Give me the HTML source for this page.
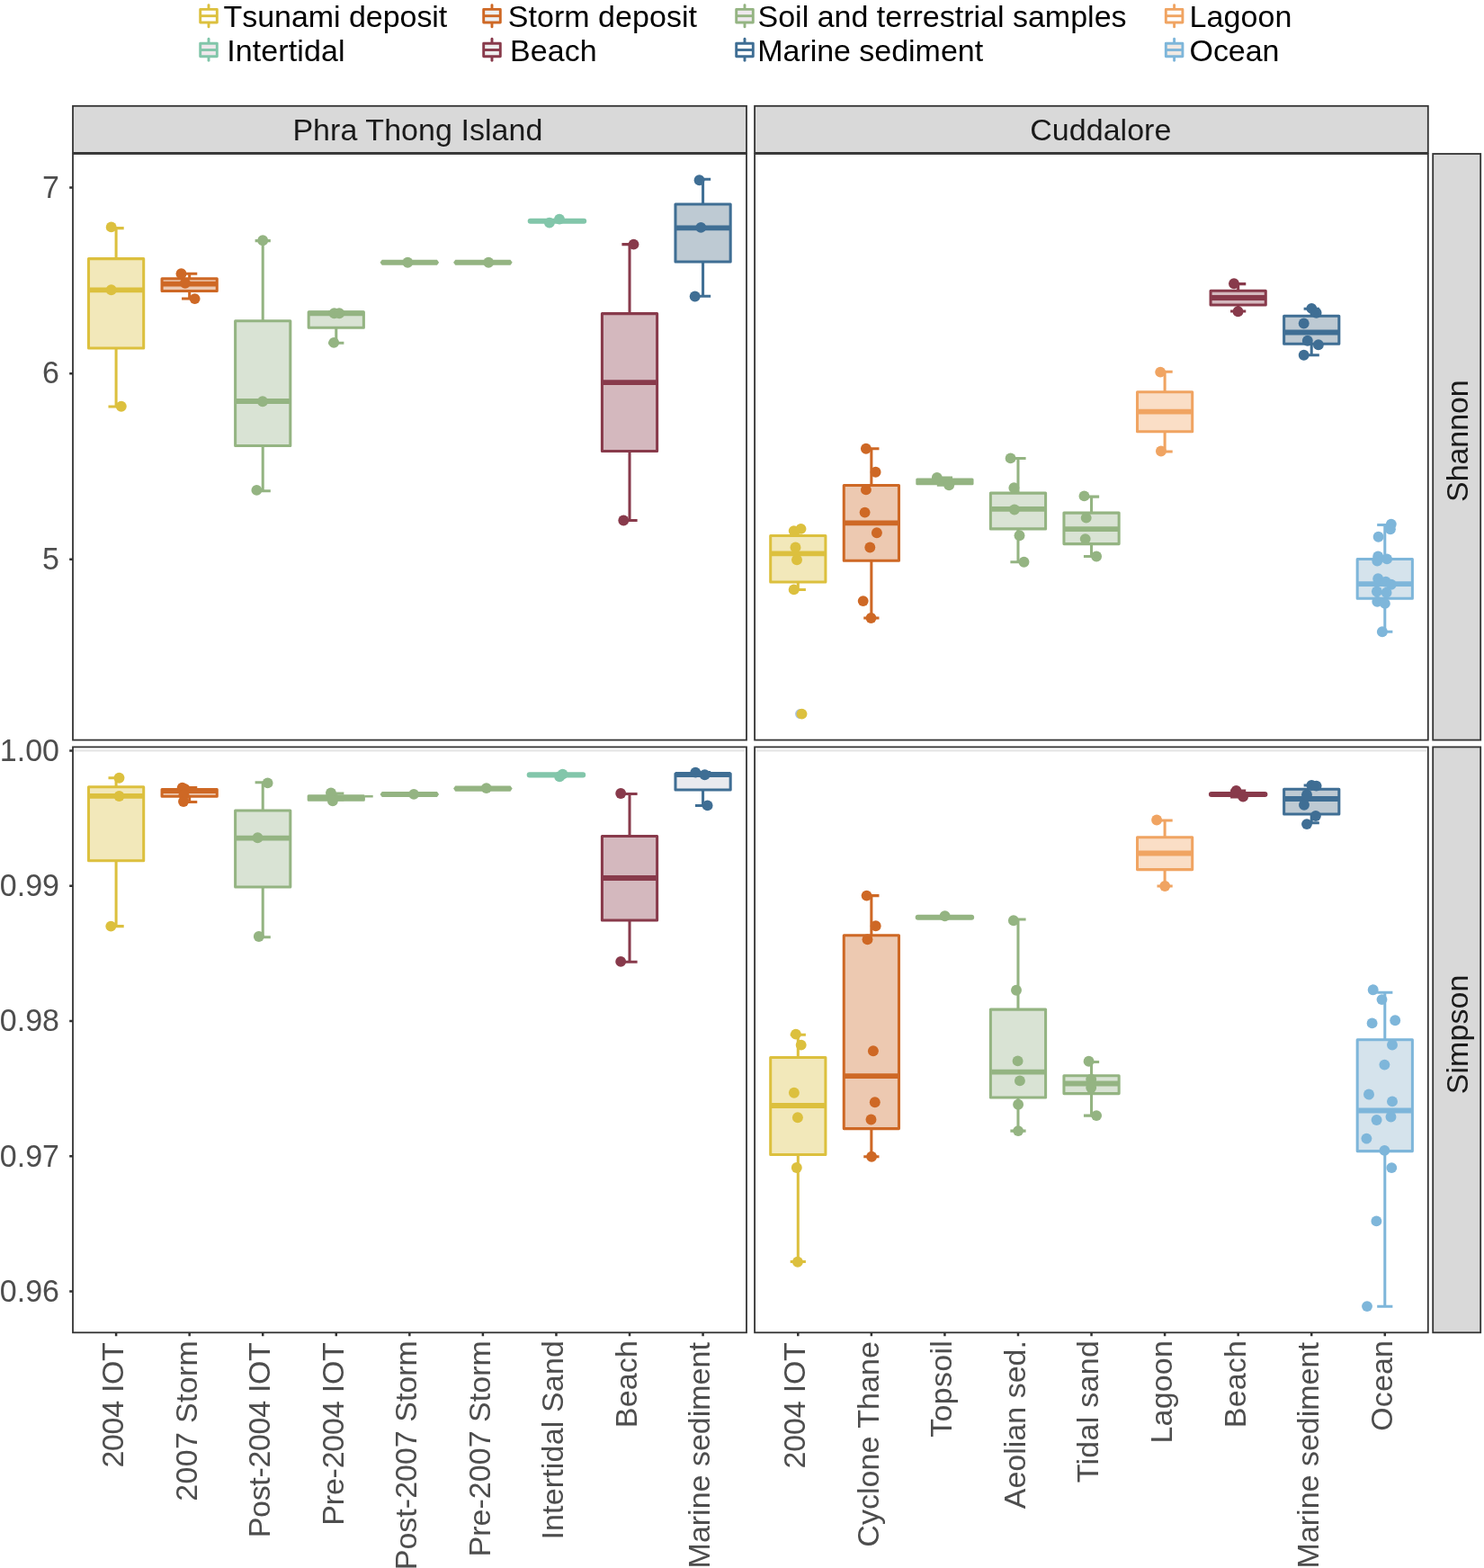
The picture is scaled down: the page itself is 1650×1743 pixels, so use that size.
<!DOCTYPE html><html><head><meta charset="utf-8"><title>Shannon and Simpson diversity boxplots</title><style>html,body{margin:0;padding:0;background:#fff;}svg{display:block;}text{font-family:'Liberation Sans', Arial, Helvetica, sans-serif;}#leg_tsu{font-kerning:none;}</style></head><body>
<svg width="1650" height="1743" viewBox="0 0 1650 1743">
<rect width="1650" height="1743" fill="#FFFFFF"/>
<g stroke-linecap="round" stroke-linejoin="round">
<line x1="232" y1="5.6" x2="232" y2="29.9" stroke="#DCC03E" stroke-width="2.9"/>
<rect x="222.7" y="10.4" width="18.6" height="14.6" fill="#FFFFFF" stroke="#DCC03E" stroke-width="2.9"/>
<line x1="222.7" y1="17.7" x2="241.3" y2="17.7" stroke="#DCC03E" stroke-width="2.9" stroke-linecap="butt"/>
<line x1="232" y1="43.2" x2="232" y2="67.3" stroke="#82C6AA" stroke-width="2.9"/>
<rect x="222.7" y="48.3" width="18.6" height="14.5" fill="#EFE8EC" stroke="#82C6AA" stroke-width="2.9"/>
<line x1="222.7" y1="55.5" x2="241.3" y2="55.5" stroke="#82C6AA" stroke-width="2.9" stroke-linecap="butt"/>
<line x1="547" y1="5.6" x2="547" y2="29.9" stroke="#CE6825" stroke-width="2.9"/>
<rect x="537.7" y="10.4" width="18.6" height="14.6" fill="#EDF1F4" stroke="#CE6825" stroke-width="2.9"/>
<line x1="537.7" y1="17.7" x2="556.3" y2="17.7" stroke="#CE6825" stroke-width="2.9" stroke-linecap="butt"/>
<line x1="547" y1="43.2" x2="547" y2="67.3" stroke="#883A4B" stroke-width="2.9"/>
<rect x="537.7" y="48.3" width="18.6" height="14.5" fill="#EEEEEE" stroke="#883A4B" stroke-width="2.9"/>
<line x1="537.7" y1="55.5" x2="556.3" y2="55.5" stroke="#883A4B" stroke-width="2.9" stroke-linecap="butt"/>
<line x1="828" y1="5.6" x2="828" y2="29.9" stroke="#94B482" stroke-width="2.9"/>
<rect x="818.7" y="10.4" width="18.6" height="14.6" fill="#EFE9EF" stroke="#94B482" stroke-width="2.9"/>
<line x1="818.7" y1="17.7" x2="837.3" y2="17.7" stroke="#94B482" stroke-width="2.9" stroke-linecap="butt"/>
<line x1="828" y1="43.2" x2="828" y2="67.3" stroke="#3F6E94" stroke-width="2.9"/>
<rect x="818.7" y="48.3" width="18.6" height="14.5" fill="#FFFFFF" stroke="#3F6E94" stroke-width="2.9"/>
<line x1="818.7" y1="55.5" x2="837.3" y2="55.5" stroke="#3F6E94" stroke-width="2.9" stroke-linecap="butt"/>
<line x1="1305.6" y1="5.6" x2="1305.6" y2="29.9" stroke="#F0A462" stroke-width="2.9"/>
<rect x="1296.3" y="10.4" width="18.6" height="14.6" fill="#FFFFFF" stroke="#F0A462" stroke-width="2.9"/>
<line x1="1296.3" y1="17.7" x2="1314.9" y2="17.7" stroke="#F0A462" stroke-width="2.9" stroke-linecap="butt"/>
<line x1="1305.6" y1="43.2" x2="1305.6" y2="67.3" stroke="#7EB6DA" stroke-width="2.9"/>
<rect x="1296.3" y="48.3" width="18.6" height="14.5" fill="#F1E9E3" stroke="#7EB6DA" stroke-width="2.9"/>
<line x1="1296.3" y1="55.5" x2="1314.9" y2="55.5" stroke="#7EB6DA" stroke-width="2.9" stroke-linecap="butt"/>
</g>
<text id="leg_tsu" x="248.55" y="30.3" fill="#000000" text-anchor="start" font-size="34.0" textLength="248.77" lengthAdjust="spacing">Tsunami deposit</text>
<text id="leg_int" x="252.3" y="67.8" fill="#000000" text-anchor="start" font-size="34.0" textLength="131.21" lengthAdjust="spacing">Intertidal</text>
<text id="leg_sto" x="564.75" y="30.3" fill="#000000" text-anchor="start" font-size="34.0" textLength="210.27" lengthAdjust="spacing">Storm deposit</text>
<text id="leg_bea" x="566.9" y="67.8" fill="#000000" text-anchor="start" font-size="34.0" textLength="96.81" lengthAdjust="spacing">Beach</text>
<text id="leg_soil" x="842.5" y="30.3" fill="#000000" text-anchor="start" font-size="34.0" textLength="410.06" lengthAdjust="spacing">Soil and terrestrial samples</text>
<text id="leg_mar" x="842.25" y="67.8" fill="#000000" text-anchor="start" font-size="34.0" textLength="250.84" lengthAdjust="spacing">Marine sediment</text>
<text id="leg_lag" x="1322.55" y="30.3" fill="#000000" text-anchor="start" font-size="34.0" textLength="113.77" lengthAdjust="spacing">Lagoon</text>
<text id="leg_oce" x="1322.6" y="67.8" fill="#000000" text-anchor="start" font-size="34.0" textLength="99.79" lengthAdjust="spacing">Ocean</text>
<rect x="81" y="171" width="749" height="651.6" fill="#FFFFFF"/>
<svg x="81" y="171" width="749" height="651.6" viewBox="81 171 749 651.6" overflow="hidden">
<path d="M129.1 253.6V287.6M129.1 387V452M120.5 253.6H137.7M120.5 452H137.7" stroke="#DCC03E" stroke-width="3.05" fill="none"/>
<rect x="98.5" y="287.6" width="61.2" height="99.4" fill="#F2E8BA" stroke="#DCC03E" stroke-width="3.05" stroke-linejoin="round"/>
<line x1="98.5" y1="322.4" x2="159.7" y2="322.4" stroke="#DCC03E" stroke-width="5.8"/>
<circle cx="123.7" cy="252.4" r="5.95" fill="#DCC03E"/>
<circle cx="123.7" cy="322.2" r="5.95" fill="#DCC03E"/>
<circle cx="134.8" cy="451.7" r="5.95" fill="#DCC03E"/>
<path d="M210.66 304.3V309.8M210.66 323.5V331.9M202.06 304.3H219.26M202.06 331.9H219.26" stroke="#CE6825" stroke-width="3.05" fill="none"/>
<rect x="180.06" y="309.8" width="61.2" height="13.7" fill="#EDC9B1" stroke="#CE6825" stroke-width="3.05" stroke-linejoin="round"/>
<line x1="180.06" y1="315.7" x2="241.26" y2="315.7" stroke="#CE6825" stroke-width="5.8"/>
<circle cx="201.5" cy="304.2" r="5.95" fill="#CE6825"/>
<circle cx="205.9" cy="314.7" r="5.95" fill="#CE6825"/>
<circle cx="216.6" cy="332.1" r="5.95" fill="#CE6825"/>
<path d="M292.22 267.6V356.8M292.22 495.6V545.7M283.62 267.6H300.82M283.62 545.7H300.82" stroke="#94B482" stroke-width="3.05" fill="none"/>
<rect x="261.62" y="356.8" width="61.2" height="138.8" fill="#D9E3D4" stroke="#94B482" stroke-width="3.05" stroke-linejoin="round"/>
<line x1="261.62" y1="446" x2="322.82" y2="446" stroke="#94B482" stroke-width="5.8"/>
<circle cx="292.2" cy="267.2" r="5.95" fill="#94B482"/>
<circle cx="292" cy="446.3" r="5.95" fill="#94B482"/>
<circle cx="285.4" cy="544.9" r="5.95" fill="#94B482"/>
<path d="M373.78 346.8V346.8M373.78 364.3V381.2M365.18 346.8H382.38M365.18 381.2H382.38" stroke="#94B482" stroke-width="3.05" fill="none"/>
<rect x="343.18" y="346.8" width="61.2" height="17.5" fill="#D9E3D4" stroke="#94B482" stroke-width="3.05" stroke-linejoin="round"/>
<line x1="343.18" y1="348.4" x2="404.38" y2="348.4" stroke="#94B482" stroke-width="5.8"/>
<circle cx="371.6" cy="348.2" r="5.95" fill="#94B482"/>
<circle cx="377.2" cy="348.2" r="5.95" fill="#94B482"/>
<circle cx="371.2" cy="380.9" r="5.95" fill="#94B482"/>
<path d="M422.54 291.7L424.74 288.65H485.94L488.14 291.7L485.94 294.75H424.74Z" fill="#94B482"/>
<circle cx="453.3" cy="291.7" r="5.95" fill="#94B482"/>
<path d="M504.1 291.7L506.3 288.65H567.5L569.7 291.7L567.5 294.75H506.3Z" fill="#94B482"/>
<circle cx="543.2" cy="291.7" r="5.95" fill="#94B482"/>
<line x1="589.76" y1="245.7" x2="649.16" y2="245.7" stroke="#82C6AA" stroke-width="6.1" stroke-linecap="round"/>
<circle cx="610.9" cy="247.6" r="5.95" fill="#82C6AA"/>
<circle cx="622" cy="243.6" r="5.95" fill="#82C6AA"/>
<path d="M700.02 271.6V348.6M700.02 501.4V578.4M691.42 271.6H708.62M691.42 578.4H708.62" stroke="#883A4B" stroke-width="3.05" fill="none"/>
<rect x="669.42" y="348.6" width="61.2" height="152.8" fill="#D4B8BE" stroke="#883A4B" stroke-width="3.05" stroke-linejoin="round"/>
<line x1="669.42" y1="425.1" x2="730.62" y2="425.1" stroke="#883A4B" stroke-width="5.8"/>
<circle cx="704.5" cy="271.6" r="5.95" fill="#883A4B"/>
<circle cx="693.3" cy="578.5" r="5.95" fill="#883A4B"/>
<path d="M781.58 199.3V227M781.58 291V329.2M772.98 199.3H790.18M772.98 329.2H790.18" stroke="#3F6E94" stroke-width="3.05" fill="none"/>
<rect x="750.98" y="227" width="61.2" height="64" fill="#BECAD3" stroke="#3F6E94" stroke-width="3.05" stroke-linejoin="round"/>
<line x1="750.98" y1="253.3" x2="812.18" y2="253.3" stroke="#3F6E94" stroke-width="5.8"/>
<circle cx="777.6" cy="200.2" r="5.95" fill="#3F6E94"/>
<circle cx="779.3" cy="252.9" r="5.95" fill="#3F6E94"/>
<circle cx="772.7" cy="329.5" r="5.95" fill="#3F6E94"/>
</svg>
<rect x="81" y="171" width="749" height="651.6" fill="none" stroke="#333333" stroke-width="1.8"/>
<rect x="839.1" y="171" width="748.7" height="651.6" fill="#FFFFFF"/>
<svg x="839.1" y="171" width="748.7" height="651.6" viewBox="839.1 171 748.7 651.6" overflow="hidden">
<path d="M887.3 588.5V595.5M887.3 647V655.4M878.7 588.5H895.9M878.7 655.4H895.9" stroke="#DCC03E" stroke-width="3.05" fill="none"/>
<rect x="856.7" y="595.5" width="61.2" height="51.5" fill="#F2E8BA" stroke="#DCC03E" stroke-width="3.05" stroke-linejoin="round"/>
<line x1="856.7" y1="615.3" x2="917.9" y2="615.3" stroke="#DCC03E" stroke-width="5.8"/>
<circle cx="889.6" cy="793.6" r="5.5" fill="#A7C0E2"/>
<circle cx="882.7" cy="590.1" r="5.95" fill="#DCC03E"/>
<circle cx="890.5" cy="587.9" r="5.95" fill="#DCC03E"/>
<circle cx="884.5" cy="608.4" r="5.95" fill="#DCC03E"/>
<circle cx="886" cy="622.2" r="5.95" fill="#DCC03E"/>
<circle cx="882.7" cy="655.4" r="5.95" fill="#DCC03E"/>
<circle cx="891.5" cy="793.6" r="5.95" fill="#DCC03E"/>
<path d="M968.86 498.7V539.4M968.86 623.2V687M960.26 498.7H977.46M960.26 687H977.46" stroke="#CE6825" stroke-width="3.05" fill="none"/>
<rect x="938.26" y="539.4" width="61.2" height="83.8" fill="#EDC9B1" stroke="#CE6825" stroke-width="3.05" stroke-linejoin="round"/>
<line x1="938.26" y1="581.3" x2="999.46" y2="581.3" stroke="#CE6825" stroke-width="5.8"/>
<circle cx="962.9" cy="498.7" r="5.95" fill="#CE6825"/>
<circle cx="973.6" cy="524.8" r="5.95" fill="#CE6825"/>
<circle cx="962.9" cy="544.4" r="5.95" fill="#CE6825"/>
<circle cx="961.6" cy="569.6" r="5.95" fill="#CE6825"/>
<circle cx="974.9" cy="592.3" r="5.95" fill="#CE6825"/>
<circle cx="967.3" cy="608.5" r="5.95" fill="#CE6825"/>
<circle cx="959.7" cy="668.1" r="5.95" fill="#CE6825"/>
<circle cx="968.5" cy="687" r="5.95" fill="#CE6825"/>
<path d="M1050.42 531V533M1050.42 537.8V539.2M1041.82 531H1059.02M1041.82 539.2H1059.02" stroke="#94B482" stroke-width="3.05" fill="none"/>
<rect x="1019.82" y="533" width="61.2" height="4.8" fill="#D9E3D4" stroke="#94B482" stroke-width="3.05" stroke-linejoin="round"/>
<line x1="1019.82" y1="535.4" x2="1081.02" y2="535.4" stroke="#94B482" stroke-width="5.8"/>
<circle cx="1041.8" cy="530.9" r="5.95" fill="#94B482"/>
<circle cx="1055.2" cy="539.2" r="5.95" fill="#94B482"/>
<path d="M1131.98 509.4V548.1M1131.98 587.9V624.8M1123.38 509.4H1140.58M1123.38 624.8H1140.58" stroke="#94B482" stroke-width="3.05" fill="none"/>
<rect x="1101.38" y="548.1" width="61.2" height="39.8" fill="#D9E3D4" stroke="#94B482" stroke-width="3.05" stroke-linejoin="round"/>
<line x1="1101.38" y1="565.8" x2="1162.58" y2="565.8" stroke="#94B482" stroke-width="5.8"/>
<circle cx="1123.6" cy="509.4" r="5.95" fill="#94B482"/>
<circle cx="1127.4" cy="542.3" r="5.95" fill="#94B482"/>
<circle cx="1127.9" cy="566.5" r="5.95" fill="#94B482"/>
<circle cx="1133.5" cy="595.3" r="5.95" fill="#94B482"/>
<circle cx="1138.5" cy="624.8" r="5.95" fill="#94B482"/>
<path d="M1213.54 552.1V570.1M1213.54 604.6V618.5M1204.94 552.1H1222.14M1204.94 618.5H1222.14" stroke="#94B482" stroke-width="3.05" fill="none"/>
<rect x="1182.94" y="570.1" width="61.2" height="34.5" fill="#D9E3D4" stroke="#94B482" stroke-width="3.05" stroke-linejoin="round"/>
<line x1="1182.94" y1="588.1" x2="1244.14" y2="588.1" stroke="#94B482" stroke-width="5.8"/>
<circle cx="1205.5" cy="551.4" r="5.95" fill="#94B482"/>
<circle cx="1207.7" cy="575.6" r="5.95" fill="#94B482"/>
<circle cx="1206.7" cy="599.1" r="5.95" fill="#94B482"/>
<circle cx="1219.1" cy="618.5" r="5.95" fill="#94B482"/>
<path d="M1295.1 413.3V435.8M1295.1 479.8V502M1286.5 413.3H1303.7M1286.5 502H1303.7" stroke="#F0A462" stroke-width="3.05" fill="none"/>
<rect x="1264.5" y="435.8" width="61.2" height="44" fill="#FADEC6" stroke="#F0A462" stroke-width="3.05" stroke-linejoin="round"/>
<line x1="1264.5" y1="457.6" x2="1325.7" y2="457.6" stroke="#F0A462" stroke-width="5.8"/>
<circle cx="1290.2" cy="413.6" r="5.95" fill="#F0A462"/>
<circle cx="1290.9" cy="501.5" r="5.95" fill="#F0A462"/>
<path d="M1376.66 315.6V323.3M1376.66 338.9V345.9M1368.06 315.6H1385.26M1368.06 345.9H1385.26" stroke="#883A4B" stroke-width="3.05" fill="none"/>
<rect x="1346.06" y="323.3" width="61.2" height="15.6" fill="#D4B8BE" stroke="#883A4B" stroke-width="3.05" stroke-linejoin="round"/>
<line x1="1346.06" y1="331" x2="1407.26" y2="331" stroke="#883A4B" stroke-width="5.8"/>
<circle cx="1372" cy="315.2" r="5.95" fill="#883A4B"/>
<circle cx="1376.5" cy="346.2" r="5.95" fill="#883A4B"/>
<path d="M1458.22 343.2V351.3M1458.22 382.3V394.7M1449.62 343.2H1466.82M1449.62 394.7H1466.82" stroke="#3F6E94" stroke-width="3.05" fill="none"/>
<rect x="1427.62" y="351.3" width="61.2" height="31" fill="#BECAD3" stroke="#3F6E94" stroke-width="3.05" stroke-linejoin="round"/>
<line x1="1427.62" y1="369.5" x2="1488.82" y2="369.5" stroke="#3F6E94" stroke-width="5.8"/>
<circle cx="1458.3" cy="342.9" r="5.95" fill="#3F6E94"/>
<circle cx="1463.6" cy="347.7" r="5.95" fill="#3F6E94"/>
<circle cx="1449.7" cy="359.5" r="5.95" fill="#3F6E94"/>
<circle cx="1453.8" cy="378.8" r="5.95" fill="#3F6E94"/>
<circle cx="1465.9" cy="383.3" r="5.95" fill="#3F6E94"/>
<circle cx="1449.7" cy="394.7" r="5.95" fill="#3F6E94"/>
<path d="M1539.78 583.5V621.4M1539.78 665.2V702.3M1531.18 583.5H1548.38M1531.18 702.3H1548.38" stroke="#7EB6DA" stroke-width="3.05" fill="none"/>
<rect x="1509.18" y="621.4" width="61.2" height="43.8" fill="#D5E3EC" stroke="#7EB6DA" stroke-width="3.05" stroke-linejoin="round"/>
<line x1="1509.18" y1="649.1" x2="1570.38" y2="649.1" stroke="#7EB6DA" stroke-width="5.8"/>
<circle cx="1546.8" cy="582.6" r="5.95" fill="#7EB6DA"/>
<circle cx="1545.9" cy="588.2" r="5.95" fill="#7EB6DA"/>
<circle cx="1532.6" cy="596.8" r="5.95" fill="#7EB6DA"/>
<circle cx="1532.2" cy="618.4" r="5.95" fill="#7EB6DA"/>
<circle cx="1531.3" cy="623.5" r="5.95" fill="#7EB6DA"/>
<circle cx="1542.1" cy="621.4" r="5.95" fill="#7EB6DA"/>
<circle cx="1532.2" cy="643.3" r="5.95" fill="#7EB6DA"/>
<circle cx="1540.8" cy="646.8" r="5.95" fill="#7EB6DA"/>
<circle cx="1546.8" cy="649.8" r="5.95" fill="#7EB6DA"/>
<circle cx="1530.9" cy="657.5" r="5.95" fill="#7EB6DA"/>
<circle cx="1541.6" cy="658.8" r="5.95" fill="#7EB6DA"/>
<circle cx="1531.3" cy="668.7" r="5.95" fill="#7EB6DA"/>
<circle cx="1539.9" cy="670.9" r="5.95" fill="#7EB6DA"/>
<circle cx="1536.9" cy="702.3" r="5.95" fill="#7EB6DA"/>
</svg>
<rect x="839.1" y="171" width="748.7" height="651.6" fill="none" stroke="#333333" stroke-width="1.8"/>
<rect x="81" y="830.4" width="749" height="650.9" fill="#FFFFFF"/>
<line x1="82" y1="834.4" x2="828.5" y2="834.4" stroke="#E6E6E6" stroke-width="2.2"/>
<svg x="81" y="830.4" width="749" height="650.9" viewBox="81 830.4 749 650.9" overflow="hidden">
<path d="M129.1 864.7V874.8M129.1 956.8V1029.6M120.5 864.7H137.7M120.5 1029.6H137.7" stroke="#DCC03E" stroke-width="3.05" fill="none"/>
<rect x="98.5" y="874.8" width="61.2" height="82" fill="#F2E8BA" stroke="#DCC03E" stroke-width="3.05" stroke-linejoin="round"/>
<line x1="98.5" y1="884.9" x2="159.7" y2="884.9" stroke="#DCC03E" stroke-width="5.8"/>
<circle cx="132.5" cy="864.7" r="5.95" fill="#DCC03E"/>
<circle cx="132.5" cy="885" r="5.95" fill="#DCC03E"/>
<circle cx="123.3" cy="1029.6" r="5.95" fill="#DCC03E"/>
<path d="M210.66 875.5V877.6M210.66 885.3V891.4M202.06 875.5H219.26M202.06 891.4H219.26" stroke="#CE6825" stroke-width="3.05" fill="none"/>
<rect x="180.06" y="877.6" width="61.2" height="7.7" fill="#EDC9B1" stroke="#CE6825" stroke-width="3.05" stroke-linejoin="round"/>
<line x1="180.06" y1="879.2" x2="241.26" y2="879.2" stroke="#CE6825" stroke-width="5.8"/>
<circle cx="202.7" cy="875.8" r="5.95" fill="#CE6825"/>
<circle cx="205.8" cy="877.2" r="5.95" fill="#CE6825"/>
<circle cx="204.5" cy="883.5" r="5.95" fill="#CE6825"/>
<circle cx="204" cy="891" r="5.95" fill="#CE6825"/>
<path d="M292.22 869.8V900.9M292.22 985.9V1041.7M283.62 869.8H300.82M283.62 1041.7H300.82" stroke="#94B482" stroke-width="3.05" fill="none"/>
<rect x="261.62" y="900.9" width="61.2" height="85" fill="#D9E3D4" stroke="#94B482" stroke-width="3.05" stroke-linejoin="round"/>
<line x1="261.62" y1="931.6" x2="322.82" y2="931.6" stroke="#94B482" stroke-width="5.8"/>
<circle cx="297.6" cy="870.4" r="5.95" fill="#94B482"/>
<circle cx="286.5" cy="931.2" r="5.95" fill="#94B482"/>
<circle cx="287.8" cy="1041" r="5.95" fill="#94B482"/>
<path d="M373.78 882V884.8M373.78 889.3V889M365.18 882H382.38M365.18 889H382.38" stroke="#94B482" stroke-width="3.05" fill="none"/>
<rect x="343.18" y="884.8" width="61.2" height="4.5" fill="#D9E3D4" stroke="#94B482" stroke-width="3.05" stroke-linejoin="round"/>
<line x1="343.18" y1="887" x2="404.38" y2="887" stroke="#94B482" stroke-width="5.8"/>
<circle cx="368" cy="881.5" r="5.95" fill="#94B482"/>
<circle cx="369.9" cy="890.2" r="5.95" fill="#94B482"/>
<path d="M422.54 883L424.74 879.95H485.94L488.14 883L485.94 886.05H424.74Z" fill="#94B482"/>
<circle cx="460.1" cy="882.9" r="5.95" fill="#94B482"/>
<path d="M504.1 876.6L506.3 873.55H567.5L569.7 876.6L567.5 879.65H506.3Z" fill="#94B482"/>
<circle cx="540.8" cy="876.1" r="5.95" fill="#94B482"/>
<line x1="588.76" y1="861.4" x2="648.16" y2="861.4" stroke="#82C6AA" stroke-width="6.1" stroke-linecap="round"/>
<circle cx="622.2" cy="863.2" r="5.95" fill="#82C6AA"/>
<circle cx="625.6" cy="860.6" r="5.95" fill="#82C6AA"/>
<path d="M700.02 882.4V929.4M700.02 1023V1069.3M691.42 882.4H708.62M691.42 1069.3H708.62" stroke="#883A4B" stroke-width="3.05" fill="none"/>
<rect x="669.42" y="929.4" width="61.2" height="93.6" fill="#D4B8BE" stroke="#883A4B" stroke-width="3.05" stroke-linejoin="round"/>
<line x1="669.42" y1="976" x2="730.62" y2="976" stroke="#883A4B" stroke-width="5.8"/>
<circle cx="690.2" cy="882" r="5.95" fill="#883A4B"/>
<circle cx="690.2" cy="1068.9" r="5.95" fill="#883A4B"/>
<path d="M781.58 858.6V859.9M781.58 878V895.4M772.98 858.6H790.18M772.98 895.4H790.18" stroke="#3F6E94" stroke-width="3.05" fill="none"/>
<rect x="750.98" y="859.9" width="61.2" height="18.1" fill="#E9EAEE" stroke="#3F6E94" stroke-width="3.05" stroke-linejoin="round"/>
<line x1="750.98" y1="861" x2="812.18" y2="861" stroke="#3F6E94" stroke-width="5.8"/>
<circle cx="773.3" cy="858.6" r="5.95" fill="#3F6E94"/>
<circle cx="783.6" cy="861.3" r="5.95" fill="#3F6E94"/>
<circle cx="786.6" cy="895.4" r="5.95" fill="#3F6E94"/>
<line x1="405.5" y1="885.2" x2="414.7" y2="885.2" stroke="#94B482" stroke-width="2.6"/>
</svg>
<rect x="81" y="830.4" width="749" height="650.9" fill="none" stroke="#333333" stroke-width="1.8"/>
<rect x="839.1" y="830.4" width="748.7" height="650.9" fill="#FFFFFF"/>
<line x1="840.1" y1="834.4" x2="1586.3" y2="834.4" stroke="#E6E6E6" stroke-width="2.2"/>
<svg x="839.1" y="830.4" width="748.7" height="650.9" viewBox="839.1 830.4 748.7 650.9" overflow="hidden">
<path d="M887.3 1150.3V1175.4M887.3 1283.4V1402.5M878.7 1150.3H895.9M878.7 1402.5H895.9" stroke="#DCC03E" stroke-width="3.05" fill="none"/>
<rect x="856.7" y="1175.4" width="61.2" height="108" fill="#F2E8BA" stroke="#DCC03E" stroke-width="3.05" stroke-linejoin="round"/>
<line x1="856.7" y1="1229" x2="917.9" y2="1229" stroke="#DCC03E" stroke-width="5.8"/>
<circle cx="884.9" cy="1149.6" r="5.95" fill="#DCC03E"/>
<circle cx="890.7" cy="1161.6" r="5.95" fill="#DCC03E"/>
<circle cx="882.9" cy="1214.8" r="5.95" fill="#DCC03E"/>
<circle cx="886.9" cy="1242.3" r="5.95" fill="#DCC03E"/>
<circle cx="885.8" cy="1298" r="5.95" fill="#DCC03E"/>
<circle cx="886.9" cy="1402.8" r="5.95" fill="#DCC03E"/>
<path d="M968.86 995.6V1039.7M968.86 1254.6V1285.8M960.26 995.6H977.46M960.26 1285.8H977.46" stroke="#CE6825" stroke-width="3.05" fill="none"/>
<rect x="938.26" y="1039.7" width="61.2" height="214.9" fill="#EDC9B1" stroke="#CE6825" stroke-width="3.05" stroke-linejoin="round"/>
<line x1="938.26" y1="1196.2" x2="999.46" y2="1196.2" stroke="#CE6825" stroke-width="5.8"/>
<circle cx="963.6" cy="995.6" r="5.95" fill="#CE6825"/>
<circle cx="973.7" cy="1029.2" r="5.95" fill="#CE6825"/>
<circle cx="964.5" cy="1044.3" r="5.95" fill="#CE6825"/>
<circle cx="970.9" cy="1168.3" r="5.95" fill="#CE6825"/>
<circle cx="972.8" cy="1225.2" r="5.95" fill="#CE6825"/>
<circle cx="968.5" cy="1244.5" r="5.95" fill="#CE6825"/>
<circle cx="969.1" cy="1285.8" r="5.95" fill="#CE6825"/>
<line x1="1020.72" y1="1019.8" x2="1080.12" y2="1019.8" stroke="#94B482" stroke-width="6.1" stroke-linecap="round"/>
<circle cx="1050.6" cy="1018.3" r="5.95" fill="#94B482"/>
<path d="M1131.98 1022V1122.1M1131.98 1219.9V1257.1M1123.38 1022H1140.58M1123.38 1257.1H1140.58" stroke="#94B482" stroke-width="3.05" fill="none"/>
<rect x="1101.38" y="1122.1" width="61.2" height="97.8" fill="#D9E3D4" stroke="#94B482" stroke-width="3.05" stroke-linejoin="round"/>
<line x1="1101.38" y1="1191.6" x2="1162.58" y2="1191.6" stroke="#94B482" stroke-width="5.8"/>
<circle cx="1126.9" cy="1023.2" r="5.95" fill="#94B482"/>
<circle cx="1130" cy="1100.7" r="5.95" fill="#94B482"/>
<circle cx="1131.6" cy="1179.4" r="5.95" fill="#94B482"/>
<circle cx="1133.9" cy="1201.4" r="5.95" fill="#94B482"/>
<circle cx="1132.1" cy="1227.7" r="5.95" fill="#94B482"/>
<circle cx="1132.1" cy="1257.1" r="5.95" fill="#94B482"/>
<path d="M1213.54 1180.5V1195.7M1213.54 1215.6V1240.1M1204.94 1180.5H1222.14M1204.94 1240.1H1222.14" stroke="#94B482" stroke-width="3.05" fill="none"/>
<rect x="1182.94" y="1195.7" width="61.2" height="19.9" fill="#D9E3D4" stroke="#94B482" stroke-width="3.05" stroke-linejoin="round"/>
<line x1="1182.94" y1="1204.5" x2="1244.14" y2="1204.5" stroke="#94B482" stroke-width="5.8"/>
<circle cx="1210.6" cy="1179.7" r="5.95" fill="#94B482"/>
<circle cx="1213.2" cy="1199.8" r="5.95" fill="#94B482"/>
<circle cx="1213.2" cy="1209.1" r="5.95" fill="#94B482"/>
<circle cx="1219.1" cy="1240.1" r="5.95" fill="#94B482"/>
<path d="M1295.1 912V930.7M1295.1 966.6V985M1286.5 912H1303.7M1286.5 985H1303.7" stroke="#F0A462" stroke-width="3.05" fill="none"/>
<rect x="1264.5" y="930.7" width="61.2" height="35.9" fill="#FADEC6" stroke="#F0A462" stroke-width="3.05" stroke-linejoin="round"/>
<line x1="1264.5" y1="948.5" x2="1325.7" y2="948.5" stroke="#F0A462" stroke-width="5.8"/>
<circle cx="1286.1" cy="911.5" r="5.95" fill="#F0A462"/>
<circle cx="1295.2" cy="985" r="5.95" fill="#F0A462"/>
<line x1="1346.96" y1="883" x2="1406.36" y2="883" stroke="#883A4B" stroke-width="6.1" stroke-linecap="round"/>
<path d="M1368.06 879H1385.26M1368.06 886H1385.26M1376.66 879V886" stroke="#883A4B" stroke-width="3.05" fill="none"/>
<circle cx="1374.5" cy="878.9" r="5.95" fill="#883A4B"/>
<circle cx="1382.1" cy="885.5" r="5.95" fill="#883A4B"/>
<path d="M1458.22 873V877.2M1458.22 904.9V914.8M1449.62 873H1466.82M1449.62 914.8H1466.82" stroke="#3F6E94" stroke-width="3.05" fill="none"/>
<rect x="1427.62" y="877.2" width="61.2" height="27.7" fill="#BECAD3" stroke="#3F6E94" stroke-width="3.05" stroke-linejoin="round"/>
<line x1="1427.62" y1="888" x2="1488.82" y2="888" stroke="#3F6E94" stroke-width="5.8"/>
<circle cx="1458.3" cy="872.9" r="5.95" fill="#3F6E94"/>
<circle cx="1463.6" cy="873.6" r="5.95" fill="#3F6E94"/>
<circle cx="1453" cy="883.5" r="5.95" fill="#3F6E94"/>
<circle cx="1450" cy="894.8" r="5.95" fill="#3F6E94"/>
<circle cx="1462.9" cy="907" r="5.95" fill="#3F6E94"/>
<circle cx="1453" cy="916.1" r="5.95" fill="#3F6E94"/>
<path d="M1539.78 1103.2V1155.7M1539.78 1279.6V1452.3M1531.18 1103.2H1548.38M1531.18 1452.3H1548.38" stroke="#7EB6DA" stroke-width="3.05" fill="none"/>
<rect x="1509.18" y="1155.7" width="61.2" height="123.9" fill="#D5E3EC" stroke="#7EB6DA" stroke-width="3.05" stroke-linejoin="round"/>
<line x1="1509.18" y1="1234.5" x2="1570.38" y2="1234.5" stroke="#7EB6DA" stroke-width="5.8"/>
<circle cx="1526.7" cy="1100.3" r="5.95" fill="#7EB6DA"/>
<circle cx="1536.5" cy="1111.1" r="5.95" fill="#7EB6DA"/>
<circle cx="1525.6" cy="1137.4" r="5.95" fill="#7EB6DA"/>
<circle cx="1551.2" cy="1134.2" r="5.95" fill="#7EB6DA"/>
<circle cx="1548" cy="1161.5" r="5.95" fill="#7EB6DA"/>
<circle cx="1539.4" cy="1183.6" r="5.95" fill="#7EB6DA"/>
<circle cx="1522" cy="1216.5" r="5.95" fill="#7EB6DA"/>
<circle cx="1548" cy="1224.4" r="5.95" fill="#7EB6DA"/>
<circle cx="1530.6" cy="1245" r="5.95" fill="#7EB6DA"/>
<circle cx="1546.5" cy="1241.5" r="5.95" fill="#7EB6DA"/>
<circle cx="1519.4" cy="1265.6" r="5.95" fill="#7EB6DA"/>
<circle cx="1539.4" cy="1278.9" r="5.95" fill="#7EB6DA"/>
<circle cx="1547.3" cy="1298.1" r="5.95" fill="#7EB6DA"/>
<circle cx="1530.4" cy="1357.4" r="5.95" fill="#7EB6DA"/>
<circle cx="1520" cy="1452.1" r="5.95" fill="#7EB6DA"/>
</svg>
<rect x="839.1" y="830.4" width="748.7" height="650.9" fill="none" stroke="#333333" stroke-width="1.8"/>
<rect x="81" y="117.8" width="749" height="52.1" fill="#D9D9D9" stroke="#333333" stroke-width="1.8"/>
<rect x="839.1" y="117.8" width="748.7" height="52.1" fill="#D9D9D9" stroke="#333333" stroke-width="1.8"/>
<rect x="1593.2" y="171" width="53" height="651.6" fill="#D9D9D9" stroke="#333333" stroke-width="1.8"/>
<rect x="1593.2" y="830.4" width="53" height="650.9" fill="#D9D9D9" stroke="#333333" stroke-width="1.8"/>
<text id="strip_phra" x="464.43" y="156.4" fill="#1A1A1A" text-anchor="middle" font-size="34.0" textLength="278.08" lengthAdjust="spacing">Phra Thong Island</text>
<text id="strip_cud" x="1223.8" y="156.4" fill="#1A1A1A" text-anchor="middle" font-size="34.0" textLength="157.19" lengthAdjust="spacing">Cuddalore</text>
<text id="strip_sha" transform="translate(1631.9 490.1) rotate(-90)" fill="#1A1A1A" text-anchor="middle" font-size="34.0" textLength="135.74" lengthAdjust="spacing">Shannon</text>
<text id="strip_sim" transform="translate(1631.9 1149.95) rotate(-90)" fill="#1A1A1A" text-anchor="middle" font-size="34.0" textLength="132.58" lengthAdjust="spacing">Simpson</text>
<path d="M77.2 208.4H81 M77.2 415.2H81 M77.2 621.85H81 M77.2 834.4H81 M77.2 984.7H81 M77.2 1135H81 M77.2 1285.3H81 M77.2 1435.5H81 M129.1 1481.3V1485.2 M210.66 1481.3V1485.2 M292.22 1481.3V1485.2 M373.78 1481.3V1485.2 M455.34 1481.3V1485.2 M536.9 1481.3V1485.2 M618.46 1481.3V1485.2 M700.02 1481.3V1485.2 M781.58 1481.3V1485.2 M887.3 1481.3V1485.2 M968.86 1481.3V1485.2 M1050.42 1481.3V1485.2 M1131.98 1481.3V1485.2 M1213.54 1481.3V1485.2 M1295.1 1481.3V1485.2 M1376.66 1481.3V1485.2 M1458.22 1481.3V1485.2 M1539.78 1481.3V1485.2" stroke="#333333" stroke-width="2.5" fill="none"/>
<text id="ylab_7" transform="translate(66 219.5) scale(1 1.04)" fill="#4D4D4D" text-anchor="end" font-size="34.0">7</text>
<text id="ylab_6" transform="translate(66 426.3) scale(1 1.04)" fill="#4D4D4D" text-anchor="end" font-size="34.0">6</text>
<text id="ylab_5" transform="translate(66 632.95) scale(1 1.04)" fill="#4D4D4D" text-anchor="end" font-size="34.0">5</text>
<text id="ylab_1.00" transform="translate(66 845.7) scale(1 1.04)" fill="#4D4D4D" text-anchor="end" font-size="34.0">1.00</text>
<text id="ylab_0.99" transform="translate(66 996) scale(1 1.04)" fill="#4D4D4D" text-anchor="end" font-size="34.0">0.99</text>
<text id="ylab_0.98" transform="translate(66 1146.3) scale(1 1.04)" fill="#4D4D4D" text-anchor="end" font-size="34.0">0.98</text>
<text id="ylab_0.97" transform="translate(66 1296.6) scale(1 1.04)" fill="#4D4D4D" text-anchor="end" font-size="34.0">0.97</text>
<text id="ylab_0.96" transform="translate(66 1446.8) scale(1 1.04)" fill="#4D4D4D" text-anchor="end" font-size="34.0">0.96</text>
<text id="xlab_0_1" transform="translate(137 1492.1) rotate(-90)" fill="#4D4D4D" text-anchor="end" font-size="34.0" textLength="139.45" lengthAdjust="spacing">2004 IOT</text>
<text id="xlab_0_2" transform="translate(218.56 1490.1) rotate(-90)" fill="#4D4D4D" text-anchor="end" font-size="34.0" textLength="178.67" lengthAdjust="spacing">2007 Storm</text>
<text id="xlab_0_3" transform="translate(300.12 1492.1) rotate(-90)" fill="#4D4D4D" text-anchor="end" font-size="34.0" textLength="217.21" lengthAdjust="spacing">Post-2004 IOT</text>
<text id="xlab_0_4" transform="translate(381.68 1492.1) rotate(-90)" fill="#4D4D4D" text-anchor="end" font-size="34.0" textLength="203.58" lengthAdjust="spacing">Pre-2004 IOT</text>
<text id="xlab_0_5" transform="translate(463.24 1490.1) rotate(-90)" fill="#4D4D4D" text-anchor="end" font-size="34.0">Post-2007 Storm</text>
<text id="xlab_0_6" transform="translate(544.8 1490.1) rotate(-90)" fill="#4D4D4D" text-anchor="end" font-size="34.0" textLength="240.4" lengthAdjust="spacing">Pre-2007 Storm</text>
<text id="xlab_0_7" transform="translate(626.36 1490.1) rotate(-90)" fill="#4D4D4D" text-anchor="end" font-size="34.0" textLength="221.47" lengthAdjust="spacing">Intertidal Sand</text>
<text id="xlab_0_8" transform="translate(707.92 1490.1) rotate(-90)" fill="#4D4D4D" text-anchor="end" font-size="34.0" textLength="97.11" lengthAdjust="spacing">Beach</text>
<text id="xlab_0_9" transform="translate(789.48 1492.1) rotate(-90)" fill="#4D4D4D" text-anchor="end" font-size="34.0">Marine sediment</text>
<text id="xlab_1_1" transform="translate(895.2 1492.1) rotate(-90)" fill="#4D4D4D" text-anchor="end" font-size="34.0" textLength="140.35" lengthAdjust="spacing">2004 IOT</text>
<text id="xlab_1_2" transform="translate(976.76 1491.1) rotate(-90)" fill="#4D4D4D" text-anchor="end" font-size="34.0" textLength="228.58" lengthAdjust="spacing">Cyclone Thane</text>
<text id="xlab_1_3" transform="translate(1058.32 1490.1) rotate(-90)" fill="#4D4D4D" text-anchor="end" font-size="34.0" textLength="107.74" lengthAdjust="spacing">Topsoil</text>
<text id="xlab_1_4" transform="translate(1139.88 1490.1) rotate(-90)" fill="#4D4D4D" text-anchor="end" font-size="34.0" textLength="187.14" lengthAdjust="spacing">Aeolian sed.</text>
<text id="xlab_1_5" transform="translate(1221.44 1490.1) rotate(-90)" fill="#4D4D4D" text-anchor="end" font-size="34.0" textLength="158.21" lengthAdjust="spacing">Tidal sand</text>
<text id="xlab_1_6" transform="translate(1303 1490.1) rotate(-90)" fill="#4D4D4D" text-anchor="end" font-size="34.0" textLength="114.47" lengthAdjust="spacing">Lagoon</text>
<text id="xlab_1_7" transform="translate(1384.56 1490.1) rotate(-90)" fill="#4D4D4D" text-anchor="end" font-size="34.0" textLength="97.11" lengthAdjust="spacing">Beach</text>
<text id="xlab_1_8" transform="translate(1466.12 1492.1) rotate(-90)" fill="#4D4D4D" text-anchor="end" font-size="34.0">Marine sediment</text>
<text id="xlab_1_9" transform="translate(1547.68 1490.1) rotate(-90)" fill="#4D4D4D" text-anchor="end" font-size="34.0" textLength="100.59" lengthAdjust="spacing">Ocean</text>
</svg></body></html>
